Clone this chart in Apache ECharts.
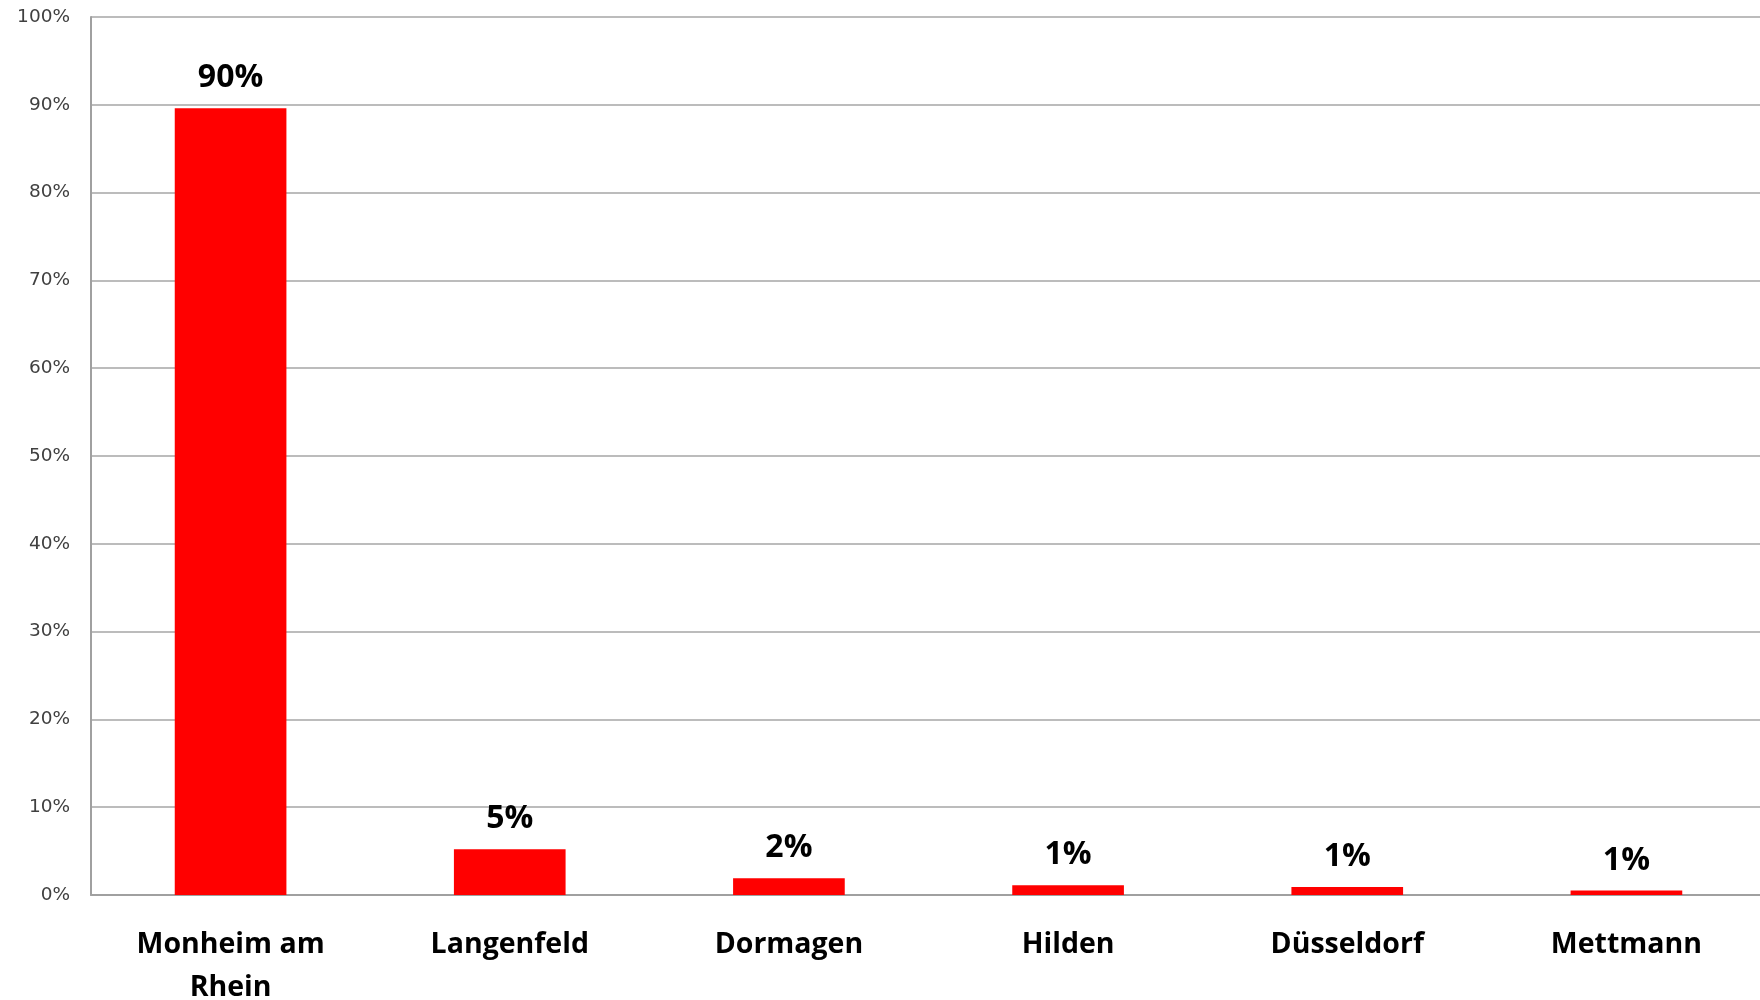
<!DOCTYPE html>
<html>
<head>
<meta charset="utf-8">
<script src="https://cdn.jsdelivr.net/npm/echarts@6/dist/echarts.min.js"></script>
<style>
  html, body { margin: 0; padding: 0; background: #fff; }
  #chart { width: 1760px; height: 1000px; }
</style>
</head>
<body>
<div id="chart"></div>
<script>
"use strict";

var cities = ['Monheim am\nRhein', 'Langenfeld', 'Dormagen', 'Hilden', 'Düsseldorf', 'Mettmann'];
var shares = [89.6, 5.2, 1.9, 1.1, 0.9, 0.5];
var yTicks = { min: 0, max: 100, interval: 10 };

var chart = echarts.init(document.getElementById('chart'));

chart.setOption({
  animation: false,
  // plot runs off the right edge a little, like the original
  grid: { left: 91, right: -6, top: 17, bottom: 105, containLabel: false, outerBoundsMode: 'none' },
  xAxis: {
    type: 'category',
    data: cities,
    axisLine: { lineStyle: { color: '#a0a0a0', width: 2 } },
    axisTick: { show: false },
    axisLabel: {
      margin: 28,
      color: '#000',
      fontFamily: 'Open Sans',
      fontWeight: 'bold',
      fontSize: 28.5,
      lineHeight: 43,
      interval: 0
    }
  },
  yAxis: {
    type: 'value',
    min: yTicks.min,
    max: yTicks.max,
    interval: yTicks.interval,
    axisLine: { show: true, lineStyle: { color: '#a0a0a0', width: 2 } },
    axisTick: { show: false },
    splitLine: { lineStyle: { color: '#a6a6a6', width: 1.5 } },
    axisLabel: {
      formatter: '{value}%',
      margin: 21,
      color: '#404040',
      fontFamily: 'DejaVu Sans',
      fontSize: 18.5
    }
  },
  series: [{
    type: 'bar',
    data: shares,
    barWidth: '40%',
    itemStyle: { color: '#ff0000' },
    label: {
      show: true,
      position: 'top',
      distance: 14,
      color: '#000',
      fontFamily: 'Open Sans',
      fontWeight: 'bold',
      fontSize: 32,
      formatter: function(p) { return Math.round(p.value) + '%'; }
    }
  }]
});
</script>
</body>
</html>
